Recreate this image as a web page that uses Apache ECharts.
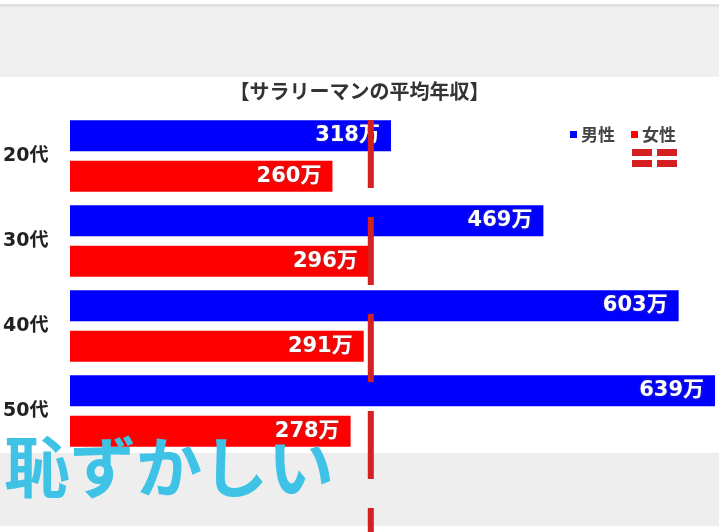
<!DOCTYPE html>
<html><head><meta charset="utf-8">
<script src="https://cdn.jsdelivr.net/npm/echarts@6/dist/echarts.min.js"></script>
<style>html,body{margin:0;padding:0;background:#fff}#c{width:719px;height:532px}</style>
</head><body><div id="c"></div>
<script>
const categories = ['20代', '30代', '40代', '50代'];
const maleValues = [318, 469, 603, 639];
const femaleValues = [260, 296, 291, 278];
const seriesNames = ['男性', '女性'];
const titleText = '【サラリーマンの平均年収】';
const overlayText = '恥ずかしい';
const refLineValue = 298;

const chart = echarts.init(document.getElementById('c'));
const numFont = '"DejaVu Sans", "Noto Sans CJK JP", sans-serif';
const labelCfg = {
  show: true, position: 'insideRight', distance: 11,
  color: '#fff', fontWeight: 'bold', fontSize: 21, fontFamily: numFont,
  textShadowColor: 'rgba(90,90,90,0.6)', textShadowBlur: 3,
  formatter: p => p.value + '万'
};
chart.setOption({
  backgroundColor: '#fff',
  animation: false,
  title: {
    text: titleText, left: 'center', top: 76,
    textStyle: { fontSize: 20, fontWeight: 'bold', color: '#333', fontFamily: '"Noto Sans CJK JP", sans-serif' }
  },
  legend: {
    data: seriesNames, right: 38, top: 121, icon: 'rect', itemWidth: 7, itemHeight: 7, itemGap: 16,
    textStyle: { fontSize: 17, color: '#444', fontWeight: 'bold', fontFamily: '"Noto Sans CJK JP", sans-serif', padding: [0, 0, 0, -1] }
  },
  grid: [
    { left: 70, top: 113.5, width: 646, height: 340 },
    { left: 70, top: 120, width: 646, bottom: 0 }
  ],
  xAxis: [
    { type: 'value', gridIndex: 0, min: 0, max: 640, show: false },
    { type: 'value', gridIndex: 1, min: 0, max: 640, show: false }
  ],
  yAxis: [
    { type: 'category', gridIndex: 0, data: categories, inverse: true,
      axisLine: { show: false }, axisTick: { show: false }, splitLine: { show: false },
      axisLabel: { align: 'left', margin: 67, fontSize: 19, fontWeight: 'bold', color: '#222', fontFamily: numFont } },
    { type: 'value', gridIndex: 1, min: 0, max: 1, inverse: true, show: false }
  ],
  series: [
    { name: seriesNames[0], type: 'bar', data: maleValues, barWidth: 31, barGap: '30%',
      itemStyle: { color: '#0000ff' }, label: labelCfg, z: 2 },
    { name: seriesNames[1], type: 'bar', data: femaleValues, barWidth: 31, barGap: '30%',
      itemStyle: { color: '#ff0000' }, label: labelCfg, z: 2 },
    { type: 'line', xAxisIndex: 1, yAxisIndex: 1, data: [[refLineValue, 0], [refLineValue, 1]],
      symbol: 'none', silent: true, z: 20,
      lineStyle: { color: '#d42020', width: 6, type: [68, 29], cap: 'butt' } }
  ],
  graphic: [
    { type: 'rect', shape: { x: 0, y: 4, width: 719, height: 3 }, style: { fill: '#e0e0e0' }, z: 0, silent: true },
    { type: 'rect', shape: { x: 0, y: 7, width: 719, height: 70 }, style: { fill: '#efefef' }, z: 0, silent: true },
    { type: 'rect', shape: { x: 0, y: 453, width: 719, height: 73 }, style: { fill: '#eeeeee' }, z: 0, silent: true },
    { type: 'rect', shape: { x: 632, y: 149, width: 20, height: 7 }, style: { fill: '#d42020' }, z: 50 },
    { type: 'rect', shape: { x: 632, y: 160, width: 20, height: 7 }, style: { fill: '#d42020' }, z: 50 },
    { type: 'rect', shape: { x: 657, y: 149, width: 20, height: 7 }, style: { fill: '#d42020' }, z: 50 },
    { type: 'rect', shape: { x: 657, y: 160, width: 20, height: 7 }, style: { fill: '#d42020' }, z: 50 },
    { type: 'text', left: 4, top: 434, z: 100,
      style: { text: overlayText, fill: '#3ec3e6', fontSize: 66, fontWeight: 'bold', fontFamily: '"Noto Sans CJK JP", sans-serif' } }
  ]
});
</script>
</body></html>
